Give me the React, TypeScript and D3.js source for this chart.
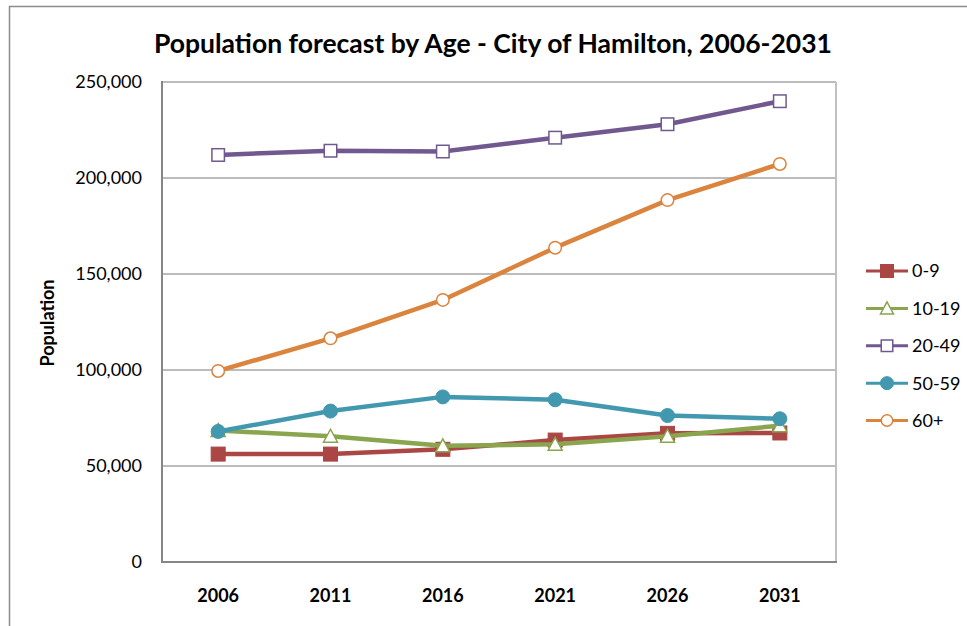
import React from 'react';
import * as d3 from 'd3';

const categories = ['2006', '2011', '2016', '2021', '2026', '2031'];
const seriesNames = ['0-9', '10-19', '20-49', '50-59', '60+'];
const values0to9 = [56200, 56200, 58700, 63500, 67000, 67200];
const values10to19 = [68500, 65500, 60500, 61300, 65500, 71000];
const values20to49 = [212000, 214200, 213800, 221000, 228000, 240000];
const values50to59 = [68000, 78600, 86000, 84500, 76300, 74600];
const values60plus = [99500, 116500, 136500, 163700, 188500, 207300];
const yTicks = [0, 50000, 100000, 150000, 200000, 250000];

const seriesValues = [values0to9, values10to19, values20to49, values50to59, values60plus];
const seriesColors = ['#AA4643', '#89A54E', '#71588F', '#4198AF', '#DB843D'];
const seriesMarkers = ['square', 'triangle', 'hollowSquare', 'circle', 'hollowCircle'];

const FONT = 'Lato, "Open Sans", sans-serif';

function Marker({ type, cx, cy, color, s }: { type: string; cx: number; cy: number; color: string; s: number }) {
  const h = s / 2;
  if (type === 'square') {
    return <rect x={cx - h} y={cy - h} width={s} height={s} fill={color} stroke={color} strokeWidth={1} />;
  }
  if (type === 'hollowSquare') {
    return <rect x={cx - h + 0.75} y={cy - h + 0.75} width={s - 1.5} height={s - 1.5} fill="#fff" stroke={color} strokeWidth={1.5} />;
  }
  if (type === 'circle') {
    return <circle cx={cx} cy={cy} r={h} fill={color} stroke={color} strokeWidth={1} />;
  }
  if (type === 'hollowCircle') {
    return <circle cx={cx} cy={cy} r={h - 0.75} fill="#fff" stroke={color} strokeWidth={1.5} />;
  }
  // triangle
  const pts = [
    [cx, cy - h],
    [cx + h, cy + h * 0.85],
    [cx - h, cy + h * 0.85],
  ];
  return <polygon points={pts.map((p) => p.join(',')).join(' ')} fill="#fff" stroke={color} strokeWidth={1.5} />;
}

export default function App() {
  const W = 967;
  const H = 626;
  const left = 162;
  const right = 836;
  const top = 82;
  const bottom = 562;

  const x = d3.scaleBand<string>().domain(categories).range([left, right]);
  const y = d3.scaleLinear().domain([0, 250000]).range([bottom, top]);
  const cx = (c: string) => (x(c) as number) + x.bandwidth() / 2;
  const line = d3
    .line<number>()
    .x((_, i) => cx(categories[i]))
    .y((d) => y(d));
  const fmt = d3.format(',');

  const legendY = d3.scalePoint<string>().domain(seriesNames).range([271, 420.5]);

  return (
    <svg width={W} height={H} style={{ position: 'absolute', left: 0, top: 0, background: '#fff' }} fontFamily={FONT}>
      <rect x={0} y={0} width={W} height={H} fill="#fff" />
      <rect x={9.5} y={6.5} width={1200} height={900} fill="none" stroke="#8c8c8c" strokeWidth={1.5} />

      <text x={493} y={53} textAnchor="middle" fontSize={26.5} fontWeight="bold" fill="#000">
        Population forecast by Age - City of Hamilton, 2006-2031
      </text>

      {/* gridlines */}
      {yTicks.map((t) => (
        <line key={t} x1={left} x2={right} y1={y(t)} y2={y(t)} stroke="#a6a6a6" strokeWidth={1.5} />
      ))}
      <line x1={right} x2={right} y1={top} y2={bottom} stroke="#c0c0c0" strokeWidth={2} />
      <line x1={left} x2={left} y1={top - 1} y2={bottom + 1} stroke="#868686" strokeWidth={2} />
      <line x1={left - 1} x2={right + 1} y1={bottom} y2={bottom} stroke="#868686" strokeWidth={2} />

      {yTicks.map((t) => (
        <text key={t} x={142} y={y(t)} dy="0.36em" textAnchor="end" fontSize={18} fill="#000">
          {fmt(t)}
        </text>
      ))}
      {categories.map((c) => (
        <text key={c} x={cx(c)} y={602} textAnchor="middle" fontSize={18} fontWeight="bold" fill="#000">
          {c}
        </text>
      ))}
      <text transform={`translate(54,323) rotate(-90)`} textAnchor="middle" fontSize={18} fontWeight="bold" fill="#000">
        Population
      </text>

      {seriesValues.map((vals, si) => (
        <g key={seriesNames[si]}>
          <path d={line(vals) as string} fill="none" stroke={seriesColors[si]} strokeWidth={4.5} strokeLinejoin="round" />
          {vals.map((v, i) => (
            <Marker key={i} type={seriesMarkers[si]} cx={cx(categories[i])} cy={y(v)} color={seriesColors[si]} s={14} />
          ))}
        </g>
      ))}

      {seriesNames.map((n, si) => {
        const ly = legendY(n) as number;
        return (
          <g key={n}>
            <line x1={866} x2={908} y1={ly} y2={ly} stroke={seriesColors[si]} strokeWidth={3} />
            <Marker type={seriesMarkers[si]} cx={887} cy={ly} color={seriesColors[si]} s={13} />
            <text x={912} y={ly} dy="0.36em" fontSize={18} fill="#000">
              {n}
            </text>
          </g>
        );
      })}
    </svg>
  );
}
